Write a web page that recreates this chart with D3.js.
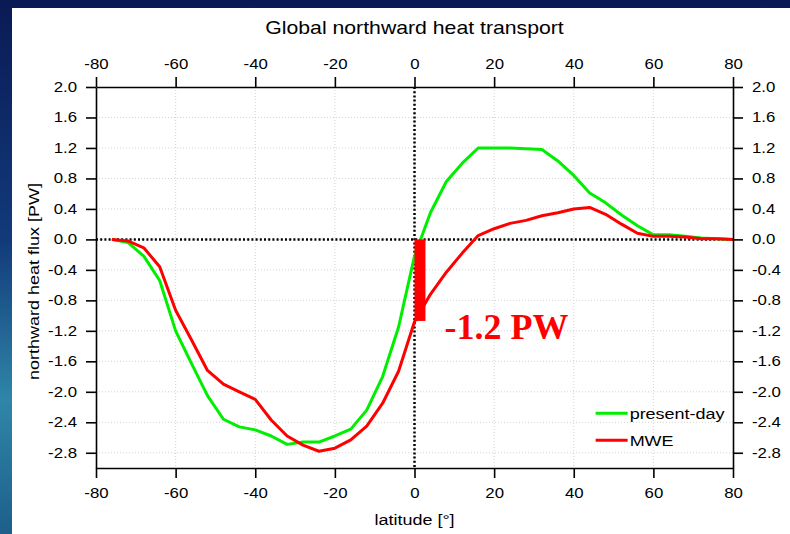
<!DOCTYPE html>
<html>
<head>
<meta charset="utf-8">
<script src="https://cdn.jsdelivr.net/npm/d3@7"></script>
<style>
  html, body { margin: 0; padding: 0; background: #0b1c52; }
  svg { display: block; }
</style>
</head>
<body>
<svg id="chart" width="790" height="534"></svg>
<script>
// latitude grid of the model output
var lat = [-76,-72,-68,-64,-60,-56,-52,-48,-44,-40,-36,-32,-28,-24,-20,-16,-12,-8,-4,0,
           4,8,12,16,20,24,28,32,36,40,44,48,52,56,60,64,68,72,76,80];
var presentDay = [0.0,-0.04,-0.22,-0.54,-1.2,-1.63,-2.05,-2.36,-2.46,-2.5,
                  -2.58,-2.69,-2.66,-2.66,-2.58,-2.49,-2.24,-1.8,-1.15,-0.22,
                  0.35,0.76,1.0,1.2,1.2,1.2,1.19,1.18,1.03,0.84,
                  0.61,0.48,0.32,0.18,0.06,0.06,0.04,0.02,0.01,0.0];
var mwe = [0.0,-0.02,-0.11,-0.36,-0.93,-1.32,-1.72,-1.9,-2.0,-2.1,
           -2.37,-2.58,-2.7,-2.78,-2.74,-2.63,-2.45,-2.15,-1.73,-1.08,
           -0.72,-0.43,-0.18,0.05,0.14,0.21,0.25,0.31,0.35,0.4,
           0.42,0.33,0.2,0.08,0.04,0.04,0.03,0.01,0.01,0.0];
var xTicks = [-80,-60,-40,-20,0,20,40,60,80];
var yTicks = [2.0,1.6,1.2,0.8,0.4,0.0,-0.4,-0.8,-1.2,-1.6,-2.0,-2.4,-2.8];
var seriesNames = ["present-day", "MWE"];
var seriesColors = ["#00ee00", "#ff0000"];
// difference marker at the equator
var barLat = [0, 2.75];
var barValue = -1.07;
var barLabel = "-1.2 PW";

var svg = d3.select("#chart");
var font = "'Liberation Sans', Arial, Helvetica, sans-serif";
var sx = 1.2; // reference font is drawn wide

// background slide and white panel
var defs = svg.append("defs");
var grad = defs.append("linearGradient").attr("id", "bg")
  .attr("x1", 0).attr("y1", 0).attr("x2", 0).attr("y2", 1);
grad.append("stop").attr("offset", "0%").attr("stop-color", "#0a1a55");
grad.append("stop").attr("offset", "45%").attr("stop-color", "#123a7a");
grad.append("stop").attr("offset", "75%").attr("stop-color", "#2f86a8");
grad.append("stop").attr("offset", "100%").attr("stop-color", "#1d5f8a");
svg.append("rect").attr("width", 790).attr("height", 534).attr("fill", "url(#bg)");
svg.append("rect").attr("x", 12).attr("y", 8).attr("width", 778).attr("height", 526)
  .attr("fill", "#ffffff");

var margin = {left: 96, top: 87, right: 57, bottom: 66};
var width = 790 - margin.left - margin.right,
    height = 534 - margin.top - margin.bottom;

var x = d3.scaleLinear().domain([-80, 80]).range([0, width]);
var y = d3.scaleLinear().domain([-3.0, 2.0]).range([height, 0]);

var g = svg.append("g")
  .attr("transform", "translate(" + margin.left + "," + margin.top + ")");

function stretch(sel) {
  sel.each(function() {
    var t = d3.select(this);
    var xx = +t.attr("x") || 0;
    t.attr("x", xx / sx).attr("transform", "scale(" + sx + ",1)");
  });
}

// grid
g.append("g").selectAll("line").data(xTicks.slice(1, -1)).enter().append("line")
  .attr("x1", function(d) { return x(d); }).attr("x2", function(d) { return x(d); })
  .attr("y1", 0).attr("y2", height)
  .attr("stroke", "#c8c8c8").attr("stroke-width", 0.8).attr("stroke-dasharray", "1,2");
g.append("g").selectAll("line").data(yTicks.slice(1)).enter().append("line")
  .attr("y1", function(d) { return y(d); }).attr("y2", function(d) { return y(d); })
  .attr("x1", 0).attr("x2", width)
  .attr("stroke", "#c8c8c8").attr("stroke-width", 0.8).attr("stroke-dasharray", "1,2");

// zero lines
g.append("line").attr("x1", 0).attr("x2", width).attr("y1", y(0)).attr("y2", y(0))
  .attr("stroke", "#000").attr("stroke-width", 2.5).attr("stroke-dasharray", "2,2.2");
g.append("line").attr("x1", x(0)).attr("x2", x(0)).attr("y1", 0).attr("y2", height)
  .attr("stroke", "#000").attr("stroke-width", 2.5).attr("stroke-dasharray", "2,2.2");

// curves
var line = d3.line()
  .x(function(d) { return x(d[0]); })
  .y(function(d) { return y(d[1]); });
[presentDay, mwe].forEach(function(s, i) {
  g.append("path")
    .datum(d3.zip(lat, s))
    .attr("d", line)
    .attr("fill", "none")
    .attr("stroke", seriesColors[i])
    .attr("stroke-width", 3)
    .attr("stroke-linejoin", "round");
});

// bar + label
g.append("rect")
  .attr("x", x(barLat[0])).attr("width", x(barLat[1]) - x(barLat[0]))
  .attr("y", y(0)).attr("height", y(barValue) - y(0))
  .attr("fill", "#ff0000");
g.append("text")
  .attr("x", x(barLat[1]) + 19).attr("y", y(barValue) + 18)
  .style("font-family", "'Liberation Serif', 'Times New Roman', serif")
  .style("font-weight", "bold").style("font-size", "36px")
  .attr("fill", "#ff0000")
  .text(barLabel);

// axes
function styleAxis(a) {
  a.select(".domain").attr("stroke", "#000").attr("stroke-width", 1.6);
  a.selectAll(".tick line").attr("stroke", "#000").attr("stroke-width", 1.6);
  a.selectAll("text").attr("fill", "#000")
    .style("font-family", font).style("font-size", "14px");
  stretch(a.selectAll("text"));
}
var fmtY = function(d) { return d.toFixed(1); };
var fmtX = function(d) { return String(d); };

var ax;
ax = g.append("g").attr("transform", "translate(0," + height + ")")
  .call(d3.axisBottom(x).tickValues(xTicks).tickFormat(fmtX).tickSize(10).tickSizeOuter(0).tickPadding(10));
styleAxis(ax);
ax = g.append("g")
  .call(d3.axisTop(x).tickValues(xTicks).tickFormat(fmtX).tickSize(10).tickSizeOuter(0).tickPadding(8));
styleAxis(ax);
ax = g.append("g")
  .call(d3.axisLeft(y).tickValues(yTicks).tickFormat(fmtY).tickSize(10).tickSizeOuter(0).tickPadding(9));
styleAxis(ax);
ax = g.append("g").attr("transform", "translate(" + width + ",0)")
  .call(d3.axisRight(y).tickValues(yTicks).tickFormat(fmtY).tickSize(10).tickSizeOuter(0).tickPadding(9));
styleAxis(ax);

// titles
svg.append("text")
  .attr("transform", "translate(" + (margin.left + x(0)) + ",34) scale(1.18,1)")
  .attr("text-anchor", "middle")
  .style("font-family", font).style("font-size", "18px")
  .text("Global northward heat transport");
svg.append("text")
  .attr("transform", "translate(" + (margin.left + x(0)) + ",525) scale(" + sx + ",1)")
  .attr("text-anchor", "middle")
  .style("font-family", font).style("font-size", "15px")
  .text("latitude [°]");
svg.append("text")
  .attr("transform", "translate(39," + (margin.top + height / 2 + 4) + ") rotate(-90) scale(" + sx + ",1)")
  .attr("text-anchor", "middle")
  .style("font-family", font).style("font-size", "15px")
  .text("northward heat flux [PW]");

// legend
var legend = g.append("g").attr("transform", "translate(" + (x(45.5)) + "," + (y(-2.28)) + ")");
seriesNames.forEach(function(name, i) {
  var row = legend.append("g").attr("transform", "translate(0," + (i * 27) + ")");
  row.append("line").attr("x1", 0).attr("x2", 32).attr("y1", 0).attr("y2", 0)
    .attr("stroke", seriesColors[i]).attr("stroke-width", 3);
  row.append("text").attr("x", 34).attr("y", 5.5)
    .style("font-family", font).style("font-size", "15px")
    .text(name);
  stretch(row.selectAll("text"));
});
</script>
</body>
</html>
